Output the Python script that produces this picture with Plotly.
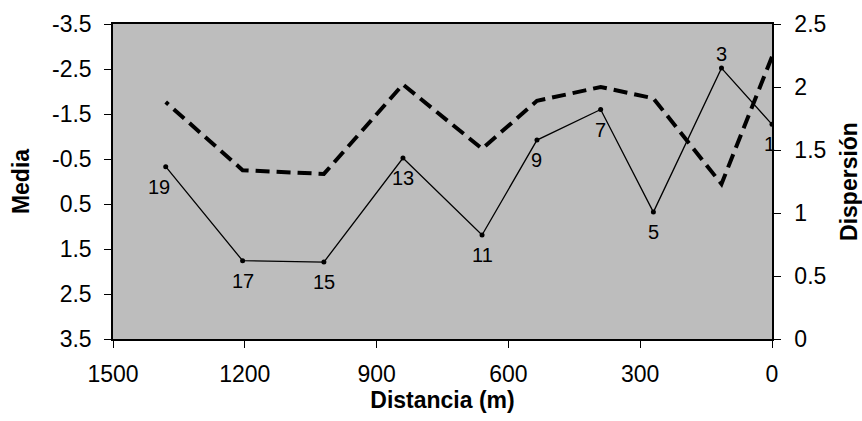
import plotly.graph_objects as go

# Sampling stations along the profile
distance_m = [0, 115, 270, 390, 535, 660, 840, 1020, 1205, 1380]
station_labels = ["1", "3", "5", "7", "9", "11", "13", "15", "17", "19"]

# Mean value per station (left axis, reversed)
media = [-1.27, -2.52, 0.68, -1.60, -0.92, 1.19, -0.52, 1.79, 1.76, -0.33]

# Dispersion per station (right axis)
dispersion = [2.24, 1.23, 1.91, 2.00, 1.89, 1.51, 2.02, 1.31, 1.34, 1.88]

# Axis ticks
x_ticks = [1500, 1200, 900, 600, 300, 0]
media_ticks = [-3.5, -2.5, -1.5, -0.5, 0.5, 1.5, 2.5, 3.5]
disp_ticks = [0, 0.5, 1, 1.5, 2, 2.5]

FONT = "Liberation Sans, Arial, sans-serif"

fig = go.Figure()

fig.add_trace(go.Scatter(
    x=distance_m, y=dispersion, yaxis="y2", mode="lines",
    line=dict(color="black", width=4, dash="14px,7px"),
    hoverinfo="skip", showlegend=False,
))

fig.add_trace(go.Scatter(
    x=distance_m, y=media, mode="lines+markers",
    line=dict(color="black", width=1.3),
    marker=dict(color="black", size=5),
    showlegend=False,
))

# Station numbers next to each point of the mean curve
for d, m, s in zip(distance_m, media, station_labels):
    above = s == "3"
    fig.add_annotation(
        x=d, y=m, xref="x", yref="y", text=s, showarrow=False,
        yshift=14 if above else -20,
        xshift=-7 if s == "19" else (-3 if s == "1" else 0),
        font=dict(family=FONT, size=20, color="black"),
    )

fig.update_layout(
    width=862, height=421,
    margin=dict(l=113, r=90, t=24, b=82),
    paper_bgcolor="white",
    plot_bgcolor="#bdbdbd",
    font=dict(family=FONT, size=23, color="black"),
    xaxis=dict(
        range=[1500, 0], tickvals=x_ticks,
        ticktext=[str(v) for v in x_ticks],
        showgrid=False, zeroline=False, automargin=False,
        showline=True, linecolor="black", linewidth=1.5, mirror=True,
        ticks="outside", ticklen=7, tickcolor="black",
        ticklabelstandoff=7,
        title=dict(text="<b>Distancia (m)</b>", standoff=2,
                   font=dict(size=23)),
    ),
    yaxis=dict(
        range=[3.5, -3.5], tickvals=media_ticks,
        ticktext=[f"{v:.1f}" for v in media_ticks],
        showgrid=False, zeroline=False, automargin=False,
        showline=True, linecolor="black", linewidth=1.5,
        ticks="outside", ticklen=7, tickcolor="black",
        ticklabelstandoff=8,
        title=dict(text="<b>Media</b>", standoff=16, font=dict(size=23)),
    ),
    yaxis2=dict(
        overlaying="y", side="right",
        range=[0, 2.5], tickvals=disp_ticks,
        ticktext=["0", "0.5", "1", "1.5", "2", "2.5"],
        showgrid=False, zeroline=False, automargin=False,
        showline=True, linecolor="black", linewidth=1.5,
        ticks="outside", ticklen=7, tickcolor="black",
        ticklabelstandoff=9,
        title=dict(text="<b>Dispersión</b>", standoff=19, font=dict(size=23)),
    ),
)

fig.write_html("out.html")
